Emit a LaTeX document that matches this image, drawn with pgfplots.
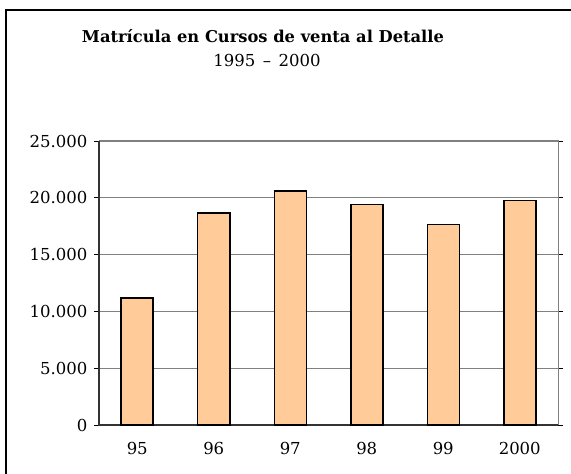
\documentclass[border=0pt]{standalone}
\usepackage{fontspec}
\setmainfont{DejaVu Serif}
\usepackage{pgfplots}
\pgfplotsset{compat=1.18}
\definecolor{barfill}{HTML}{FFCC99}
\definecolor{gridc}{HTML}{808080}
\begin{document}
\begin{tikzpicture}[x=1pt,y=1pt]
\useasboundingbox (0,0) rectangle (571,474);
\draw[line width=1.6pt] (6,0) -- (6,464) -- (571,464);
\node[font=\fontsize{16.3}{19}\selectfont\bfseries, anchor=base, inner sep=0pt] at (263,431.5)
  {Matrícula en Cursos de venta al Detalle};
\node[font=\fontsize{16.5}{19}\selectfont, anchor=base, inner sep=0pt] at (267,407)
  {1995\hspace{0.45em}--\hspace{0.45em}2000};
\begin{axis}[
  at={(99pt,49pt)}, anchor=south west,
  width=459pt, height=284pt, scale only axis,
  ybar, bar width=32pt,
  xmin=-0.5, xmax=5.5, ymin=0, ymax=25000,
  ytick={0,5000,10000,15000,20000,25000},
  yticklabels={0,5.000,10.000,15.000,20.000,25.000},
  xtick={0,...,5}, xticklabels={95,96,97,98,99,2000},
  extra x ticks={-0.5,0.5,1.5,2.5,3.5,4.5,5.5},
  extra x tick labels={},
  extra x tick style={major tick length=5pt, tick style={draw=black, line width=0.8pt}},
  major x tick style={draw=none},
  ymajorgrids, grid style={gridc, line width=0.8pt},
  tick align=outside, major tick length=5pt,
  ytick style={black, line width=0.8pt},
  axis line style={draw=none},
  tick label style={font=\fontsize{16.5}{18}\selectfont},
  yticklabel style={xshift=-3pt},
  xticklabel style={yshift=-9pt},
  scaled y ticks=false,
  clip=false,
]
\draw[gridc, line width=1pt] (axis cs:-0.5,25000) -- (axis cs:5.5,25000) -- (axis cs:5.5,0);
\draw[black!80, line width=1.2pt] (axis cs:-0.5,25000) -- (axis cs:-0.5,0) -- (axis cs:5.5,0);
\addplot[fill=barfill, draw=black, line width=1.5pt] coordinates {
  (0,11170) (1,18670) (2,20580) (3,19400) (4,17640) (5,19750)
};
\end{axis}
\end{tikzpicture}
\end{document}
